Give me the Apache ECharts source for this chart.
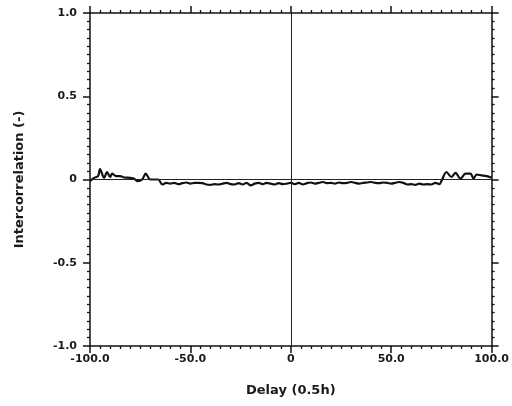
<!DOCTYPE html>
<html><head><meta charset="utf-8">
<script src="https://cdn.jsdelivr.net/npm/echarts@6/dist/echarts.min.js"></script>
<style>html,body{margin:0;padding:0;background:#fff}#c{width:512px;height:406px}</style>
</head><body><div id="c"></div>
<script>
var delays = [-100,-98,-96,-95,-93,-91.5,-90,-89,-87,-85,-83,-80,-78,-76.5,-74,-72.3,-70,-68,-66,-64,-62,-60,-58,-56,-54,-52,-50,-48,-46,-44,-42,-40,-38,-36,-34,-32,-30,-28,-26,-24,-22,-20,-18,-16,-14,-12,-10,-8,-6,-4,-2,0,2,4,6,8,10,12,14,16,18,20,22,24,26,28,30,32,34,36,38,40,42,44,46,48,50,52,54,56,58,60,62,64,66,68,70,72,74,75,77.5,80,82,84.5,87,89.5,91,92.5,95,97.5,100];
var corr = [-0.01,0.01,0.02,0.062,0.01,0.045,0.015,0.035,0.02,0.02,0.012,0.01,0.005,-0.01,0.0,0.035,0.0,0.0,0.0,-0.03,-0.02,-0.025,-0.02,-0.028,-0.022,-0.018,-0.025,-0.02,-0.02,-0.022,-0.03,-0.032,-0.028,-0.03,-0.025,-0.02,-0.028,-0.03,-0.022,-0.03,-0.02,-0.035,-0.025,-0.02,-0.028,-0.02,-0.025,-0.03,-0.022,-0.028,-0.025,-0.02,-0.028,-0.02,-0.03,-0.022,-0.018,-0.025,-0.02,-0.015,-0.022,-0.02,-0.025,-0.018,-0.022,-0.02,-0.015,-0.02,-0.025,-0.02,-0.018,-0.015,-0.02,-0.022,-0.018,-0.02,-0.025,-0.02,-0.015,-0.02,-0.03,-0.028,-0.032,-0.025,-0.03,-0.028,-0.03,-0.02,-0.028,-0.01,0.045,0.015,0.04,0.005,0.035,0.035,0.005,0.03,0.025,0.02,0.01];
var xTickLabels = {'-100':'-100.0','-50':'-50.0','0':'0','50':'50.0','100':'100.0'};
var yTickLabels = {'1':'1.0','0.5':'0.5','0':'0','-0.5':'-0.5','-1':'-1.0'};

var font = 'DejaVu Sans';
var chart = echarts.init(document.getElementById('c'), null, {renderer:'canvas'});
var pts = delays.map(function(d,i){return [d, corr[i]];});
function axisCommon(){
  return {
    axisLine:{show:true,onZero:false,lineStyle:{color:'#111',width:1.5}},
    axisTick:{show:true,inside:false,length:7,lineStyle:{color:'#111',width:1.5}},
    minorTick:{show:true,splitNumber:10,length:3,lineStyle:{color:'#111',width:1.3}},
    splitLine:{show:false}
  };
}
var xb = Object.assign(axisCommon(), {type:'value',position:'bottom',min:-100,max:100,interval:50,
  name:'Delay (0.5h)',nameLocation:'middle',nameGap:38,
  nameTextStyle:{fontFamily:font,fontSize:13,fontWeight:'bold',color:'#1a1a1a'},
  axisLabel:{fontFamily:font,fontSize:11,fontWeight:'bold',color:'#1a1a1a',margin:8,formatter:function(v){return xTickLabels[String(v)]||String(v);}}});
var xt = Object.assign(axisCommon(), {type:'value',position:'top',min:-100,max:100,interval:50,axisLabel:{show:false}});
var yl = Object.assign(axisCommon(), {type:'value',position:'left',min:-1,max:1,interval:0.5,
  name:'Intercorrelation (-)',nameLocation:'middle',nameGap:64,
  nameTextStyle:{fontFamily:font,fontSize:13,fontWeight:'bold',color:'#1a1a1a'},
  axisLabel:{fontFamily:font,fontSize:11,fontWeight:'bold',color:'#1a1a1a',margin:13,formatter:function(v){return yTickLabels[String(v)]||String(v);}}});
var yr = Object.assign(axisCommon(), {type:'value',position:'right',min:-1,max:1,interval:0.5,axisLabel:{show:false}});

chart.setOption({
  animation:false,
  backgroundColor:'#fff',
  grid:{left:90,right:20,top:13,bottom:60},
  xAxis:[xb, xt],
  yAxis:[yl, yr],
  series:[{
    type:'line',xAxisIndex:0,yAxisIndex:0,data:pts,showSymbol:false,smooth:0.3,
    lineStyle:{color:'#111',width:2.2},
    markLine:{silent:true,symbol:'none',label:{show:false},lineStyle:{color:'#222',width:1,type:'solid'},
      data:[{xAxis:0},{yAxis:0}]}
  }]
});
</script></body></html>
